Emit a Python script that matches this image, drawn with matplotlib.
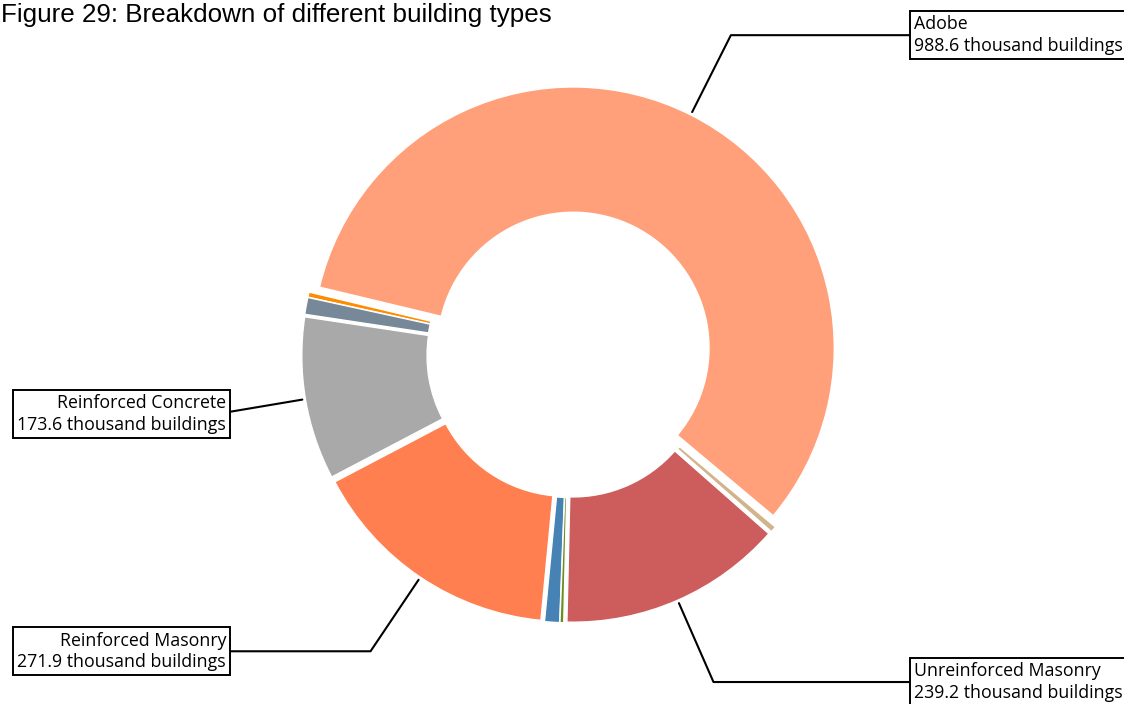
import numpy as np
import matplotlib
matplotlib.use("Agg")
import matplotlib.pyplot as plt

# building counts in thousands, in drawing order (counter-clockwise)
labels = ["Adobe", "", "", "Reinforced Concrete", "Reinforced Masonry",
          "", "", "Unreinforced Masonry", ""]
values = [988.6, 5.5, 18.0, 173.6, 271.9, 16.0, 4.0, 239.2, 6.5]
colors = ["#FFA07A", "#FF8C00", "#778899", "#A9A9A9", "#FF7F50",
          "#4682B4", "#6B8E23", "#CD5C5C", "#D2B48C"]


def main():
    fig = plt.figure(figsize=(11.24, 7.04), dpi=100)
    ax = fig.add_axes([0, 0, 1, 1])

    wedges, _ = ax.pie(values, colors=colors, startangle=-40,
                       explode=[0.028] * len(values),
                       wedgeprops=dict(width=0.48, edgecolor="white", linewidth=1.0))

    # 1 data unit = 261 px, centre of the ring at (570, 354.5) px
    ax.set_xlim(-570 / 261, 554 / 261)
    ax.set_ylim(-349.5 / 261, 354.5 / 261)
    ax.set_aspect("auto")
    ax.axis("off")

    bbox_props = dict(boxstyle="square,pad=0.25", fc="w", ec="k", lw=1.4)
    for w, lab, val in zip(wedges, labels, values):
        if not lab:
            continue
        ang = (w.theta2 + w.theta1) / 2.0
        x = np.cos(np.deg2rad(ang))
        y = np.sin(np.deg2rad(ang))
        ha = {-1: "right", 1: "left"}[int(np.sign(x))]
        ax.annotate(f"{lab}\n{val} thousand buildings",
                    xy=(1.04 * x, 1.04 * y),
                    xytext=(1.318 * np.sign(x), 1.37 * y),
                    ha=ha, va="center", multialignment=ha,
                    fontsize=12.8, family="Open Sans", linespacing=1.25,
                    bbox=bbox_props, zorder=0,
                    arrowprops=dict(arrowstyle="-", color="k", lw=1.5,
                                    shrinkA=0, shrinkB=0,
                                    connectionstyle=f"angle,angleA=0,angleB={ang}"))

    fig.text(0.001, 1 - 15 / 704, "Figure 29: Breakdown of different building types",
             va="center", ha="left", fontsize=18.7, family="Liberation Sans")

    fig.savefig("out.png", dpi=100)


if __name__ == "__main__":
    main()
